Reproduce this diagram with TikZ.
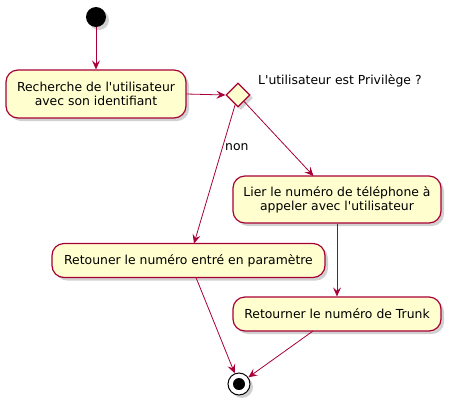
\documentclass[tikz,border=0pt]{standalone}
\usepackage{fontspec}
\setmainfont{DejaVu Sans}
\usetikzlibrary{arrows.meta,shapes.geometric,shadows,calc}
\definecolor{umlfill}{HTML}{FEFECE}
\definecolor{umlline}{HTML}{A80036}
\newcommand{\ap}{\textquotesingle}
\tikzset{
  shad/.style={drop shadow={shadow xshift=3pt,shadow yshift=-3pt,opacity=0.3,fill=black!60}},
  act/.style={draw=umlline,fill=umlfill,line width=1.2pt,rounded corners=12pt,shad,
    align=center,inner sep=0pt,font=\fontsize{12.4}{14}\selectfont},
  arr/.style={draw=umlline,line width=0.8pt,-{Stealth[length=9pt,width=8pt,inset=3.5pt]}},
  lbl/.style={font=\fontsize{12.4}{14}\selectfont,inner sep=0pt},
}
\begin{document}
\begin{tikzpicture}[x=1pt,y=-1pt]
\useasboundingbox (0,0) rectangle (452,405);
\node[circle,fill=black,minimum size=20pt,inner sep=0pt,shad] (start) at (96,17) {};
\node[act,minimum width=180pt,minimum height=48pt] (rech) at (96,94)
  {Recherche de l\ap utilisateur\\avec son identifiant};
\node[diamond,draw=umlline,fill=umlfill,line width=1.2pt,minimum width=24pt,minimum height=24pt,inner sep=0pt,shad] (dia) at (238,95) {};
\node[lbl,anchor=west] (q) at (258,81) {L\ap utilisateur est Privilège ?};
\node[act,minimum width=208pt,minimum height=47pt] (lier) at (337,199.5)
  {Lier le numéro de téléphone à\\appeler avec l\ap utilisateur};
\node[act,minimum width=273pt,minimum height=34pt] (ret) at (188.5,260.5)
  {Retouner le numéro entré en paramètre};
\node[act,minimum width=208pt,minimum height=34pt] (trunk) at (337,314)
  {Retourner le numéro de Trunk};
\node[circle,draw=black,line width=1pt,fill=white,minimum size=22pt,inner sep=0pt,shad] (end) at (239,384) {};
\node[circle,fill=black,minimum size=12pt,inner sep=0pt] (endin) at (end) {};
\draw[arr] (start) -- (rech);
\draw[arr] (rech.east) -- (dia.west);
\coordinate (retin) at (194,243.5);
\draw[arr] (dia) -- (retin);
\node[lbl,anchor=west] (non) at (225,147) {non};
\coordinate (lierin) at (313.5,176);
\draw[arr] (dia) -- (lierin);
\draw[arr] (lier.south) -- (trunk.north);
\coordinate (retout) at (196,277.5);
\draw[arr] (retout) -- (end);
\coordinate (trout) at (313,331);
\draw[arr] (trout) -- (end);
\end{tikzpicture}
\end{document}
